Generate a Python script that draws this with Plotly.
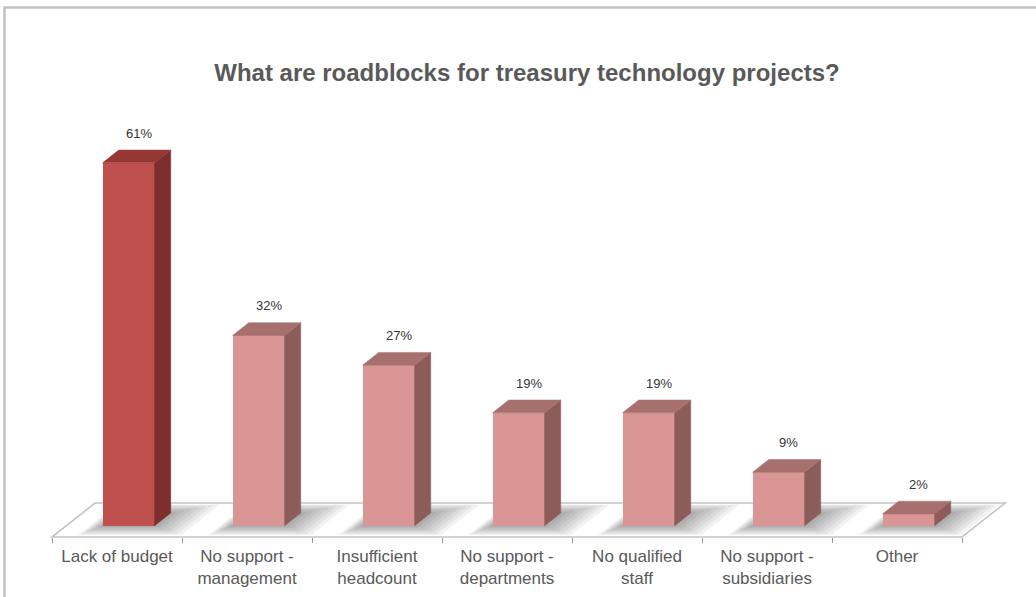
import plotly.graph_objects as go

# ---- data -------------------------------------------------------------
categories = [
    "Lack of budget",
    "No support -<br>management",
    "Insufficient<br>headcount",
    "No support -<br>departments",
    "No qualified<br>staff",
    "No support -<br>subsidiaries",
    "Other",
]
values = [61, 32, 27, 19, 19, 9, 2]
value_labels = ["61%", "32%", "27%", "19%", "19%", "9%", "2%"]

# ---- 3-D look (oblique projection) ------------------------------------
DX = 0.331        # x offset (category units) for the full floor depth
DY = 5.71         # y offset (percent units) for the full floor depth
D0, D1 = 0.33, 0.705   # front / back depth of each column
HALF_W = 0.2      # half column width (category units)
CENTER = 0.48     # column centre inside its category band

FRONT = ["#C0504D"] + ["#D99694"] * 6
SIDE = ["#7E2F2D"] + ["#8C5C5B"] * 6
TOP = ["#953735"] + ["#A6706E"] * 6


def proj(x, d, y=0.0):
    """Project a point (band x, depth d, height y) onto the chart plane."""
    return x + DX * d, y + DY * d


def path(points):
    return "M " + " L ".join(f"{px},{py}" for px, py in points) + " Z"


n = len(categories)
fig = go.Figure()
shapes = []

# floor
floor_pts = [proj(0, 0), proj(n, 0), proj(n, 1), proj(0, 1)]
shapes.append(dict(type="path", xref="x", yref="y", layer="below",
                   path=path(floor_pts), fillcolor="white",
                   line=dict(color="#C4C4C4", width=1.6)))

# soft shadows around each column foot
for i in range(n):
    xl = i + CENTER - HALF_W
    xr = i + CENTER + HALF_W
    for k in range(1, 8):
        el, er, ed = 0.014 * k, 0.042 * k, 0.04 * k
        da, db = max(D0 - ed, 0.04), min(D1 + ed, 0.96)
        pts = [proj(xl - el, da), proj(xr + er, da),
               proj(xr + er, db), proj(xl - el, db)]
        shapes.append(dict(type="path", xref="x", yref="y", layer="below",
                           path=path(pts), fillcolor="rgba(0,0,0,0.05)",
                           line=dict(width=0)))

# chart frame
shapes.append(dict(type="rect", xref="paper", yref="paper",
                   x0=4.5 / 1036, x1=1.02, y0=-0.05, y1=1 - 7.5 / 597,
                   line=dict(color="#C2C2C2", width=2.5), fillcolor="rgba(0,0,0,0)"))

# front faces as real bars
base = DY * D0
fig.add_trace(go.Bar(
    x=[i + CENTER + DX * D0 for i in range(n)],
    y=values,
    base=[base] * n,
    width=2 * HALF_W,
    marker=dict(color=FRONT, line=dict(width=0)),
    text=value_labels,
    textposition="none",
    hovertemplate="%{text}<extra></extra>",
    showlegend=False,
))

# side and top faces
for i, v in enumerate(values):
    xl = i + CENTER - HALF_W
    xr = i + CENTER + HALF_W
    side = [proj(xr, D0), proj(xr, D1), proj(xr, D1, v), proj(xr, D0, v)]
    top = [proj(xl, D0, v), proj(xr, D0, v), proj(xr, D1, v), proj(xl, D1, v)]
    for pts, col in ((side, SIDE[i]), (top, TOP[i])):
        fig.add_trace(go.Scatter(
            x=[p[0] for p in pts] + [pts[0][0]],
            y=[p[1] for p in pts] + [pts[0][1]],
            mode="lines", fill="toself", fillcolor=col,
            line=dict(color=col, width=0.5),
            hoverinfo="skip", showlegend=False,
        ))

# value labels above each column
annotations = []
for i, (v, lab) in enumerate(zip(values, value_labels)):
    cx, cy = proj(i + CENTER, D1, v)
    annotations.append(dict(
        x=cx - DX * (D1 - D0) / 2, y=cy, text=lab, showarrow=False,
        xref="x", yref="y", yanchor="middle", yshift=17, xshift=2,
        font=dict(family="Liberation Sans, Arial", size=13, color="#333333"),
    ))

fig.update_layout(
    width=1036, height=597,
    margin=dict(l=0, r=0, t=0, b=0),
    paper_bgcolor="white", plot_bgcolor="white",
    title=dict(
        text="What are roadblocks for treasury technology projects?",
        x=527 / 1036, xanchor="center", y=1 - 73 / 597, yanchor="middle",
        font=dict(family="Liberation Sans, Arial", size=24, color="#595959",
                  weight="bold"),
    ),
    shapes=shapes,
    annotations=annotations,
    bargap=0,
    xaxis=dict(
        range=[-52 / 130, (1036 - 52) / 130],
        anchor="free", position=60 / 597,
        tickmode="array",
        tickvals=[i + 0.5 for i in range(n)],
        ticktext=categories,
        ticks="", showline=False, showgrid=False, zeroline=False,
        ticklabelstandoff=7,
        tickfont=dict(family="Liberation Sans, Arial", size=17, color="#595959"),
        minor=dict(tickmode="array", tickvals=list(range(n + 1)),
                   ticks="outside", ticklen=5, tickwidth=1.2,
                   tickcolor="#9A9A9A", showgrid=False),
        fixedrange=True,
    ),
    yaxis=dict(
        range=[(537 - 597) / 5.95, 537 / 5.95],
        visible=False, fixedrange=True,
    ),
)

fig.write_html("out.html")
